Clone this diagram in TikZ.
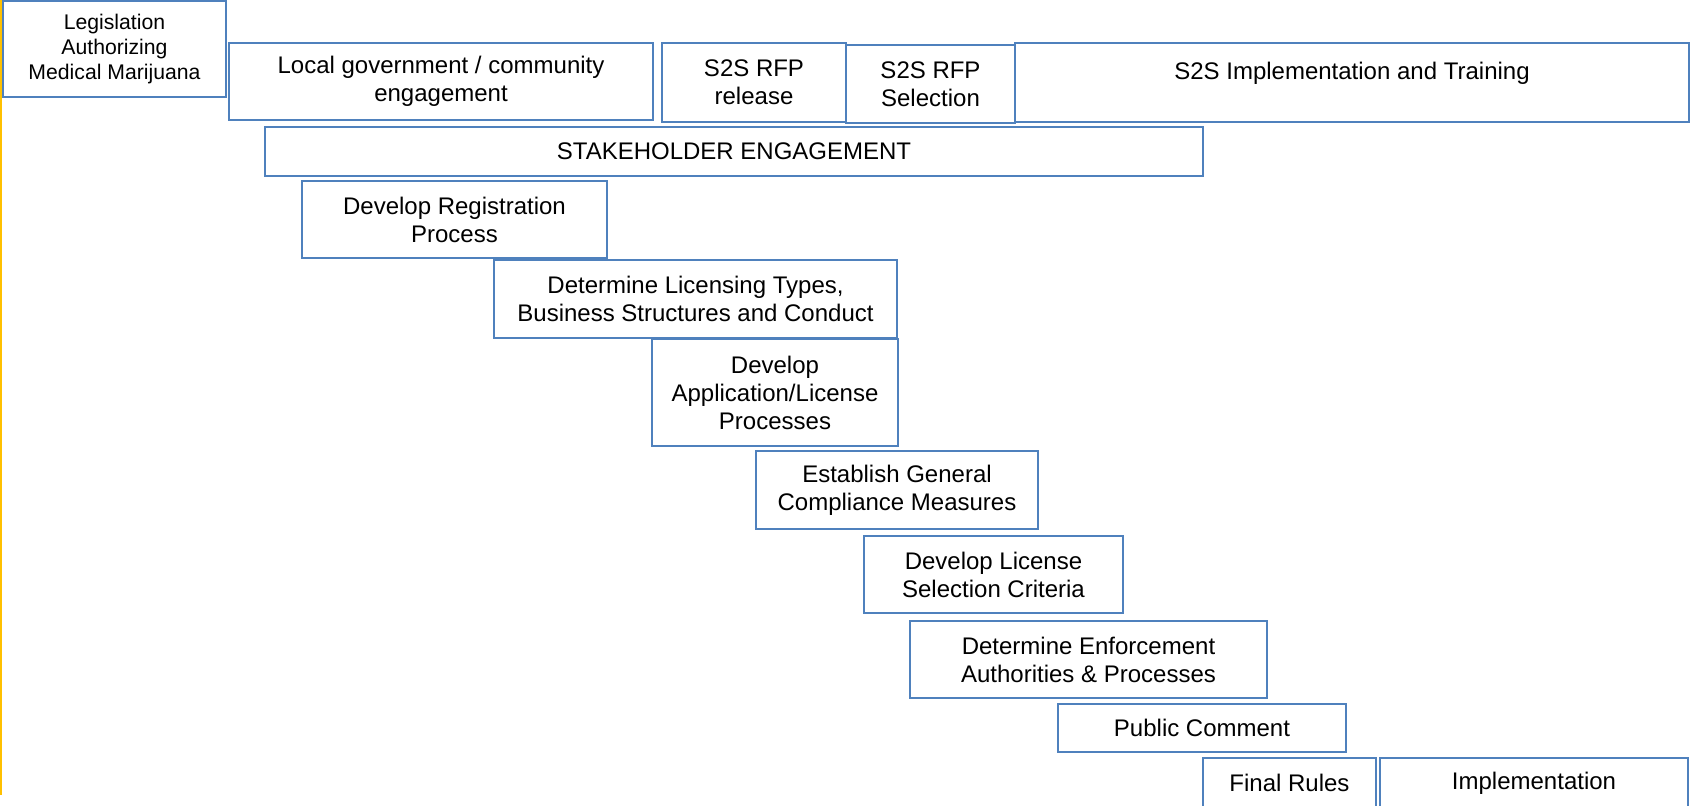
\documentclass[tikz,border=0pt]{standalone}
\usepackage{fontspec}
\setmainfont{Liberation Sans}
\usepackage{xcolor}
\usepackage{tikz}
\usetikzlibrary{shapes}
\definecolor{boxblue}{RGB}{79,129,189}
\definecolor{lineyellow}{RGB}{255,192,0}
\tikzstyle{block} = [rectangle, draw=boxblue, line width=1pt, align=center, inner sep=0pt,
    font=\fontsize{12}{14}\selectfont]
\tikzstyle{smallblock} = [block, font=\fontsize{10.6}{12.7}\selectfont]
\tikzstyle{timeline} = [draw=lineyellow, line width=1pt]

\begin{document}
\begin{tikzpicture}[x=0.5pt, y=-0.5pt]
    \useasboundingbox (0,0) rectangle (1692,805);
    % Top row
    \node [smallblock, minimum width=111.5pt, minimum height=48pt] (legislation) at (114.5,49) {Legislation\\Authorizing\\Medical Marijuana};
    \node [block, minimum width=212pt, minimum height=38.5pt] (localGov) at (441,81.5) {Local government / community\\engagement};
    \node [block, minimum width=92pt, minimum height=39.5pt] (rfpRelease) at (754,82.5) {S2S RFP\\release};
    \node [block, minimum width=84.5pt, minimum height=39pt] (rfpSelection) at (930.5,84) {S2S RFP\\Selection};
    \node [block, minimum width=337pt, minimum height=39.5pt,
        label={[anchor=north, inner sep=0pt, yshift=-10pt, font=\fontsize{12}{14}\selectfont]north:S2S Implementation and Training}] (s2sImpl) at (1352,82.5) {};
    \node [block, minimum width=469pt, minimum height=24.5pt] (stakeholder) at (734,151.5) {STAKEHOLDER ENGAGEMENT};
    % Staircase
    \node [block, minimum width=152.5pt, minimum height=38.5pt] (registration) at (454.5,219.5) {Develop Registration\\Process};
    \node [block, minimum width=201.5pt, minimum height=39pt] (licTypes) at (695.5,299) {Determine Licensing Types,\\Business Structures and Conduct};
    \node [block, minimum width=123pt, minimum height=53.5pt] (appProcess) at (775,392.5) {Develop\\Application/License\\Processes};
    \node [block, minimum width=141pt, minimum height=39pt] (compliance) at (897,490) {Establish General\\Compliance Measures};
    \node [block, minimum width=129.5pt, minimum height=38.5pt] (selCriteria) at (993.5,574.5) {Develop License\\Selection Criteria};
    \node [block, minimum width=178.5pt, minimum height=38.5pt] (enforcement) at (1088.5,659.5) {Determine Enforcement\\Authorities \& Processes};
    \node [block, minimum width=144pt, minimum height=24pt] (publicComment) at (1202,728) {Public Comment};
    \node [block, minimum width=86.5pt, minimum height=25pt] (finalRules) at (1289.5,783) {Final Rules};
    \node [block, minimum width=154pt, minimum height=25pt] (implementation) at (1534,783) {Implementation};

    % Timeline
    \coordinate (lineTop) at (1,0);
    \coordinate (lineBottom) at (1,795);
    \path [timeline] (lineTop) -- (lineBottom);
\end{tikzpicture}
\end{document}
